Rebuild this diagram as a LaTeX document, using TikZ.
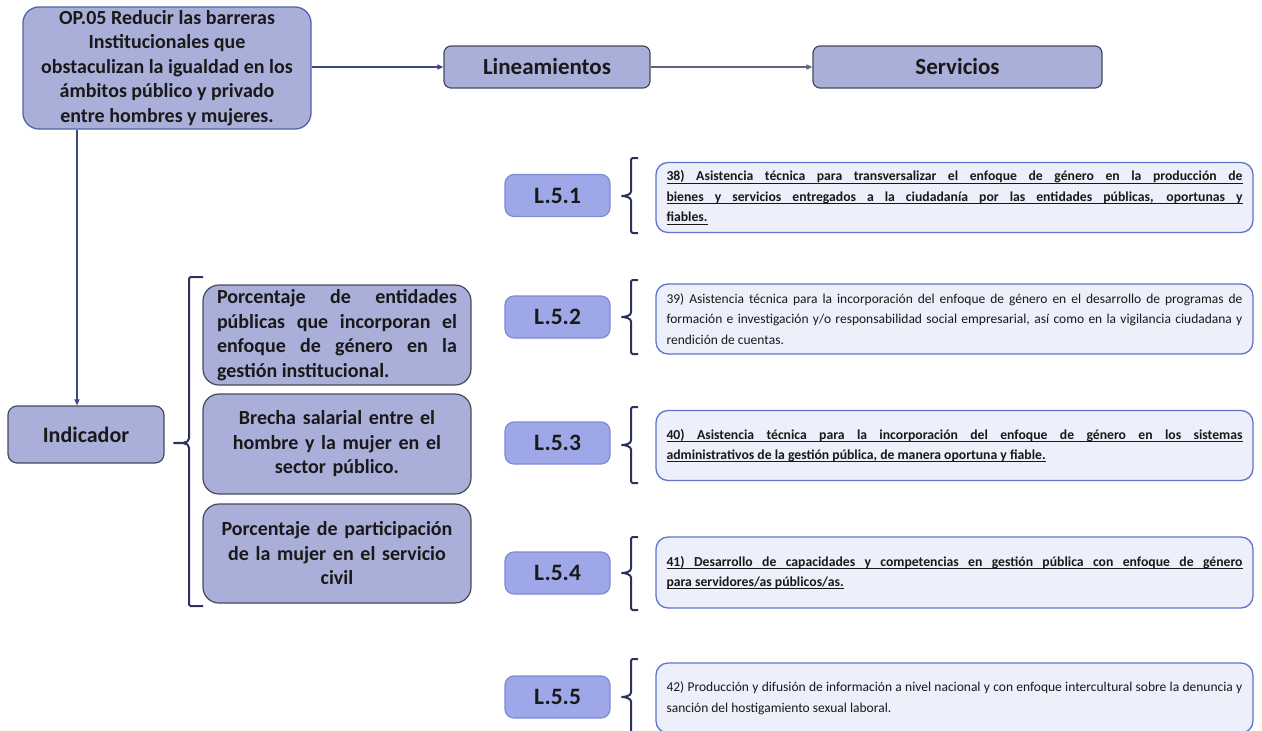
\documentclass[tikz,border=0pt]{standalone}
\usepackage{fontspec}
\setmainfont{Carlito}
\usetikzlibrary{arrows.meta}

\definecolor{opFill}{RGB}{170,175,218}
\definecolor{opLine}{RGB}{84,100,170}
\definecolor{boxLine}{RGB}{70,74,92}
\definecolor{lFill}{RGB}{158,168,232}
\definecolor{lLine}{RGB}{125,138,215}
\definecolor{svcFill}{RGB}{237,239,250}
\definecolor{svcLine}{RGB}{96,116,206}
\definecolor{braceCol}{RGB}{45,50,92}
\definecolor{linkCol}{RGB}{62,72,125}
\definecolor{linkGrey}{RGB}{95,100,120}

\newcommand\lX{557.5}
\newcommand\svcX{954.5}
\newcommand\indX{337}
\newcommand\braceSpine{631}
\newcommand\braceArm{7}
\newcommand\braceTip{620}
\newcommand\bigFont{\fontsize{20}{24.5}\selectfont\bfseries}
\newcommand\svcFont{\fontsize{13.5}{20.5}\selectfont}
\newcommand\svcBold{\fontsize{13.7}{20.5}\selectfont\bfseries}
\newcommand\ulFull[1]{\hbox to\hsize{\rlap{\vrule width\hsize height -1.7pt depth 2.5pt}#1}}
\newcommand\ulEnd[1]{\setbox0\hbox{#1}\rlap{\vrule width\wd0 height -1.7pt depth 2.5pt}\box0}
\newcommand\sideBrace[6]{\draw[brace] (#1+#2,#3) -- (#1,#3) -- (#1,#6-6) to[out=-90,in=0] (#5,#6) to[out=0,in=90] (#1,#6+6) -- (#1,#4) -- (#1+#2,#4);}

\begin{document}
\begin{tikzpicture}[x=1pt,y=-1pt,
    opbox/.style={draw=opLine, fill=opFill, line width=1.3pt, rounded corners=16pt, text=black!90},
    headbox/.style={draw=boxLine, fill=opFill, line width=1.2pt, rounded corners=7pt, text=black!90, font=\fontsize{23}{26}\selectfont\bfseries, minimum height=42pt},
    indbox/.style={draw=boxLine, fill=opFill, line width=1.2pt, rounded corners=16pt, text=black!90, font=\bigFont, text width=240pt, inner xsep=14pt, minimum height=100pt},
    lbox/.style={draw=lLine, fill=lFill, line width=1.2pt, rounded corners=9pt, text=black!90, font=\fontsize{23.5}{26}\selectfont\bfseries, minimum width=105pt, minimum height=42pt},
    svcbox/.style={draw=svcLine, fill=svcFill, line width=1.3pt, rounded corners=12pt, text=black!90, text width=576pt, inner xsep=10.5pt, align=justify, minimum height=70pt},
    brace/.style={draw=braceCol, line width=2pt, rounded corners=1.5pt},
    link/.style={draw=linkCol, line width=1.2pt, -{Triangle[length=6pt,width=5pt]}}]

    \useasboundingbox (0,0) rectangle (1262,731);

    \node[opbox, font=\bigFont, align=center, minimum width=288pt, minimum height=122pt, inner sep=1pt] (op) at (167,68) {OP.05 Reducir las barreras\\Institucionales que\\obstaculizan la igualdad en los\\ámbitos público y privado\\entre hombres y mujeres.};
    \node[headbox, minimum width=206pt] (lin) at (547,67) {Lineamientos};
    \node[headbox, minimum width=289pt] (serv) at (957.5,67) {Servicios};

    \draw[link] (op.east |- lin.west) -- (lin.west);
    \draw[link, draw=linkGrey] (lin.east) -- (serv.west);

    \node[headbox, font=\fontsize{22}{26}\selectfont\bfseries, minimum width=156pt, minimum height=57pt, rounded corners=9pt] (ind) at (86,434.5) {Indicador};
    \draw[link] ([xshift=-9pt]ind.north |- op.south) -- ([xshift=-9pt]ind.north);

    \sideBrace{189}{14}{277}{606}{172}{443}

    \node[indbox, align=justify] (ind1) at (\indX,335) {Porcentaje de entidades\linebreak públicas que incorporan el\linebreak enfoque de género en la\linebreak gestión institucional.};
    \node[indbox, align=center] (ind2) at (\indX,444) {Brecha salarial entre el\\hombre y la mujer en el\\sector público.};
    \node[indbox, align=center, minimum height=99pt] (ind3) at (\indX,553.5) {Porcentaje de participación\\de la mujer en el servicio\\civil};

    \node[lbox] (l1) at (\lX,195.5) {L.5.1};
    \node[lbox] (l2) at (\lX,317) {L.5.2};
    \node[lbox] (l3) at (\lX,443) {L.5.3};
    \node[lbox] (l4) at (\lX,573) {L.5.4};
    \node[lbox] (l5) at (\lX,697) {L.5.5};

    \sideBrace{\braceSpine}{\braceArm}{158}{233}{\braceTip}{196}
    \sideBrace{\braceSpine}{\braceArm}{280}{354}{\braceTip}{317}
    \sideBrace{\braceSpine}{\braceArm}{407}{483}{\braceTip}{445}
    \sideBrace{\braceSpine}{\braceArm}{537}{610}{\braceTip}{573}
    \sideBrace{\braceSpine}{\braceArm}{659}{735}{\braceTip}{697}

    \node[svcbox, font=\svcBold] (s38) at (\svcX,197.5) {\noindent\ulFull{38) Asistencia técnica para transversalizar el enfoque de género en la producción de}\linebreak \ulFull{bienes y servicios entregados a la ciudadanía por las entidades públicas, oportunas y}\linebreak \ulEnd{fiables.}};
    \node[svcbox, font=\svcFont] (s39) at (\svcX,319) {39) Asistencia técnica para la incorporación del enfoque de género en el desarrollo de programas de\linebreak formación e investigación y/o responsabilidad social empresarial, así como en la vigilancia ciudadana y\linebreak rendición de cuentas.};
    \node[svcbox, font=\svcBold] (s40) at (\svcX,445.5) {\noindent\ulFull{40) Asistencia técnica para la incorporación del enfoque de género en los sistemas}\linebreak \ulEnd{administrativos de la gestión pública, de manera oportuna y fiable.}};
    \node[svcbox, font=\svcBold, minimum height=71pt] (s41) at (\svcX,572.5) {\noindent\ulFull{41) Desarrollo de capacidades y competencias en gestión pública con enfoque de género}\linebreak \ulEnd{para servidores/as públicos/as.}};
    \node[svcbox, font=\svcFont] (s42) at (\svcX,698) {42) Producción y difusión de información a nivel nacional y con enfoque intercultural sobre la denuncia y\linebreak sanción del hostigamiento sexual laboral.};

\end{tikzpicture}
\end{document}
